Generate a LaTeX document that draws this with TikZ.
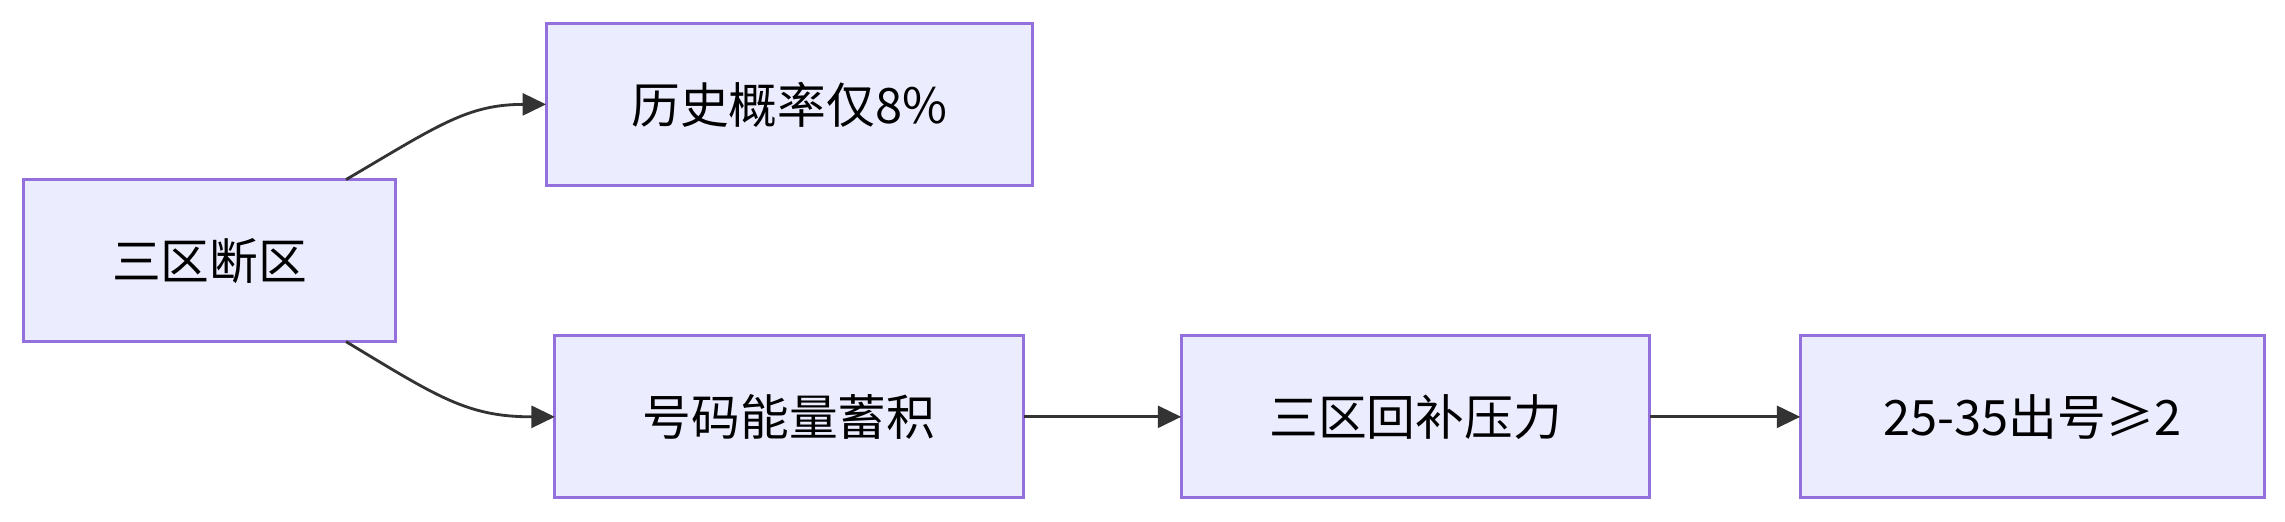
\documentclass[tikz,border=0pt]{standalone}
\usepackage{fontspec}
\setmainfont{Noto Sans CJK SC}
\usetikzlibrary{arrows.meta}
\definecolor{boxfill}{HTML}{ECECFF}
\definecolor{boxline}{HTML}{9370DB}
\definecolor{arrowc}{HTML}{333333}
\tikzset{
  stepbox/.style={draw=boxline, fill=boxfill, line width=1.2pt, inner sep=0pt},
  link/.style={draw=arrowc, line width=1.1pt, -{Triangle[length=3.2mm,width=3mm]}}
}
\begin{document}
\begin{tikzpicture}[x=0.02cm,y=-0.02cm]
  \useasboundingbox (0,0) rectangle (1565,357);
  \fill[white] (0,0) rectangle (1565,357);
  % boxes
  \draw[stepbox] (16,123) rectangle (271,234);
  \node (a) at (143.5,178.5) {\fontsize{19}{22}\selectfont 三区断区};
  \draw[stepbox] (374,16) rectangle (707,127);
  \node (b) at (540.5,71.5) {\fontsize{19}{22}\selectfont 历史概率仅8\%};
  \draw[stepbox] (380,230) rectangle (701,341);
  \node (c) at (540.5,285.5) {\fontsize{19}{22}\selectfont 号码能量蓄积};
  \draw[stepbox] (809,230) rectangle (1130,341);
  \node (d) at (969.5,285.5) {\fontsize{19}{22}\selectfont 三区回补压力};
  \draw[stepbox] (1233,230) rectangle (1551,341);
  \node (e) at (1392,285.5) {\fontsize{19}{22}\selectfont 25-35出号≥2};
  % connectors
  \coordinate (a1) at (237,123);
  \coordinate (a2) at (237,234);
  \coordinate (bw) at (374,71.5);
  \coordinate (cw) at (380,285.5);
  \draw[link] (a1) .. controls (300,86) and (320,71.5) .. (bw);
  \draw[link] (a2) .. controls (300,272) and (320,285.5) .. (cw);
  \draw[link] (701,285.5) -- (809,285.5);
  \draw[link] (1130,285.5) -- (1233,285.5);
\end{tikzpicture}
\end{document}
